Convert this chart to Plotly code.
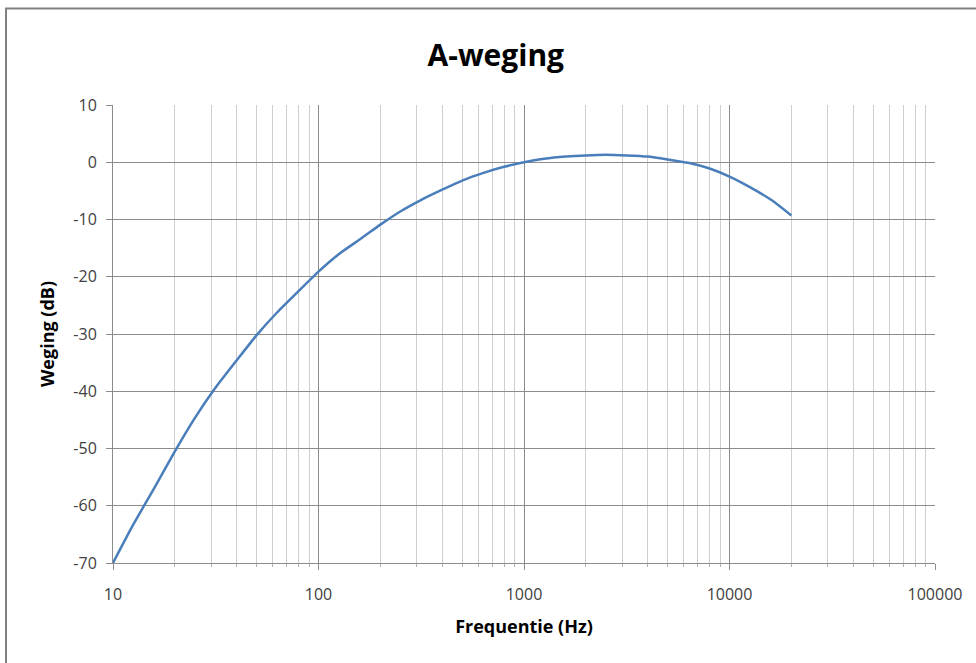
import plotly.graph_objects as go

freq_hz = [10, 12.5, 16, 20, 25, 31.5, 40, 50, 63, 80, 100, 125, 160, 200, 250, 315,
           400, 500, 630, 800, 1000, 1250, 1600, 2000, 2500, 3150, 4000, 5000, 6300,
           8000, 10000, 12500, 16000, 20000]
weging_db = [-70.0, -63.4, -56.7, -50.5, -44.7, -39.4, -34.6, -30.2, -26.2, -22.5,
             -19.1, -16.1, -13.4, -10.9, -8.6, -6.6, -4.8, -3.2, -1.9, -0.8, 0.0,
             0.6, 1.0, 1.2, 1.3, 1.2, 1.0, 0.5, -0.1, -1.1, -2.5, -4.3, -6.6, -9.3]
x_ticks = [10, 100, 1000, 10000, 100000]
y_ticks = [10, 0, -10, -20, -30, -40, -50, -60, -70]

font_family = "Open Sans, Noto Sans, sans-serif"

fig = go.Figure()
fig.add_trace(go.Scatter(
    x=freq_hz, y=weging_db, mode="lines",
    line=dict(color="#4A7EBB", width=2.5, shape="spline", smoothing=0.5),
    showlegend=False, hoverinfo="x+y"))

fig.update_layout(
    width=976, height=663,
    paper_bgcolor="white", plot_bgcolor="white",
    margin=dict(l=113, r=41, t=105, b=100),
    title=dict(text="<b>A-weging</b>", x=0.508, xref="container", xanchor="center",
               y=1 - 55 / 663, yref="container", yanchor="middle",
               font=dict(family=font_family, size=30, color="#000000")),
    font=dict(family=font_family, size=12, color="#404040"),
    xaxis=dict(
        type="log", range=[1, 5], tickvals=x_ticks, ticktext=[str(v) for v in x_ticks],
        showgrid=True, gridcolor="#8c8c8c", gridwidth=1,
        ticks="outside", ticklen=6, tickcolor="#8c8c8c",
        ticklabelstandoff=11,
        showline=True, linecolor="#8c8c8c", linewidth=1,
        minor=dict(dtick="D1", showgrid=True, gridcolor="#cfcfcf", gridwidth=1,
                   ticks="outside", ticklen=3, tickcolor="#b0b0b0"),
        zeroline=False,
        tickfont=dict(family=font_family, size=16, color="#404040"),
        title=dict(text="<b>Frequentie (Hz)</b>", standoff=16,
                   font=dict(family=font_family, size=18, color="#000000")),
    ),
    yaxis=dict(
        range=[-70, 10], tickvals=y_ticks, ticktext=[str(v) for v in y_ticks],
        showgrid=True, gridcolor="#8c8c8c", gridwidth=1,
        ticks="outside", ticklen=6, tickcolor="#8c8c8c", ticklabelstandoff=6,
        showline=True, linecolor="#8c8c8c", linewidth=1, zeroline=False,
        tickfont=dict(family=font_family, size=16, color="#404040"),
        title=dict(text="<b>Weging (dB)</b>", standoff=14,
                   font=dict(family=font_family, size=18, color="#000000")),
    ),
    shapes=[dict(type="rect", xref="paper", yref="paper",
                 x0=(6 - 113) / 822, x1=1.2, y0=-0.4, y1=(563 - 8.5) / 458,
                 line=dict(color="#808080", width=2), fillcolor="rgba(0,0,0,0)",
                 layer="below")],
)

fig.write_html("out.html", config={"displayModeBar": False},
               post_script="document.body.style.margin='0';document.body.style.overflow='hidden';")
